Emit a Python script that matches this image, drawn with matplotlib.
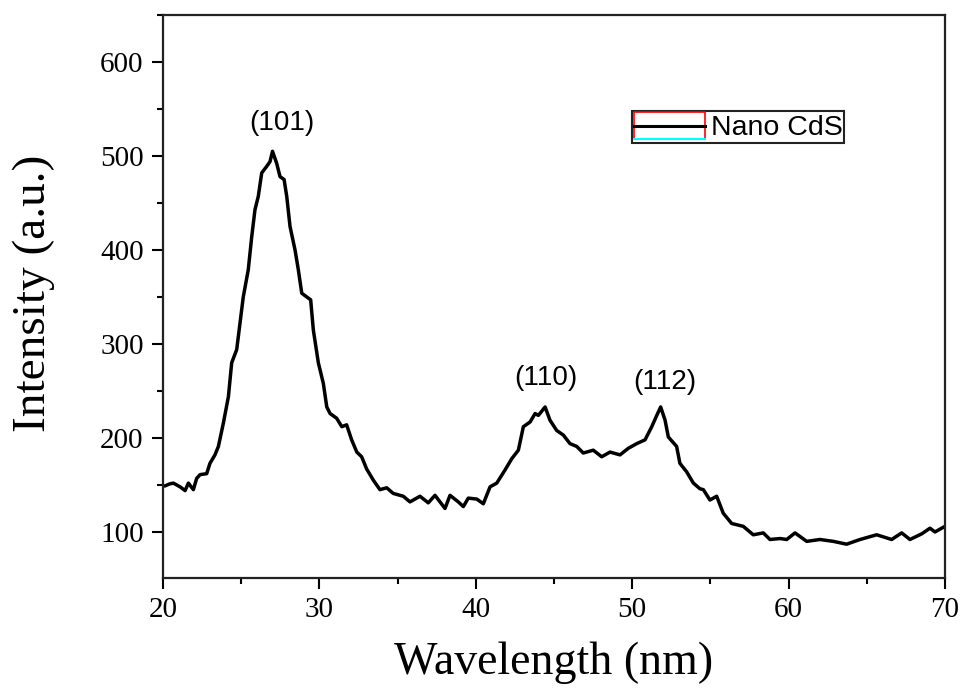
import matplotlib
matplotlib.use('Agg')
import matplotlib.pyplot as plt
from matplotlib.lines import Line2D
from matplotlib.legend_handler import HandlerBase
from matplotlib.ticker import MultipleLocator

# XRD pattern of nano CdS
two_theta = [20.0, 20.13, 20.4, 20.66, 21.09, 21.41, 21.62, 21.94, 22.15, 22.37,
             22.79, 23.0, 23.32, 23.54, 23.86, 24.18, 24.39, 24.71, 24.92, 25.13,
             25.45, 25.67, 25.88, 26.09, 26.31, 26.63, 26.84, 27.0, 27.27, 27.48,
             27.74, 27.91, 28.12, 28.44, 28.65, 28.87, 29.19, 29.44, 29.61, 29.93,
             30.25, 30.47, 30.68, 31.1, 31.43, 31.74, 32.06, 32.39, 32.7, 33.02,
             33.45, 33.87, 34.3, 34.72, 35.36, 35.79, 36.43, 36.96, 37.39, 38.03,
             38.35, 38.88, 39.2, 39.52, 40.06, 40.48, 40.91, 41.34, 41.87, 42.3,
             42.72, 43.04, 43.47, 43.79, 44.0, 44.43, 44.74, 45.17, 45.6, 46.02,
             46.45, 46.87, 47.51, 48.05, 48.58, 49.22, 49.75, 50.29, 50.82, 51.25,
             51.57, 51.82, 52.1, 52.31, 52.84, 53.05, 53.48, 53.91, 54.33, 54.55,
             54.97, 55.4, 55.82, 56.36, 57.1, 57.74, 58.38, 58.81, 59.45, 59.88,
             60.41, 61.16, 62.0, 62.86, 63.71, 64.57, 65.63, 66.59, 67.23, 67.76,
             68.51, 69.04, 69.36, 70.0]
intensity = [149, 149, 151, 152, 148, 144, 152, 145, 157, 161,
             162, 173, 182, 191, 216, 244, 280, 294, 322, 350,
             379, 414, 443, 457, 482, 489, 494, 505, 492, 478,
             475, 457, 425, 400, 379, 354, 350, 347, 315, 280,
             258, 233, 226, 221, 212, 214, 198, 185, 180, 167,
             155, 145, 147, 141, 138, 132, 138, 131, 139, 125,
             139, 132, 127, 136, 135, 130, 148, 152, 166, 178,
             187, 212, 217, 226, 224, 233, 219, 208, 203, 194,
             191, 184, 187, 180, 185, 182, 189, 194, 198, 212,
             224, 233, 219, 201, 191, 173, 164, 152, 146, 145,
             134, 138, 120, 109, 106, 97, 99, 92, 93, 92,
             99, 90, 92, 90, 87, 92, 97, 92, 99, 92,
             98, 104, 100, 106]

peak_labels = ['(101)', '(110)', '(112)']
peak_x = [27.6, 44.5, 52.1]
peak_y = [535, 264, 260]

SERIF = ['Liberation Serif', 'DejaVu Serif']
SANS = ['Liberation Sans', 'DejaVu Sans']


class OriginHandle(HandlerBase):
    """legend key as in the original: red box, cyan base, black line"""
    def create_artists(self, legend, orig_handle, xd, yd, width, height, fontsize, trans):
        x0, x1 = -xd, -xd + width
        y0, y1 = -yd, -yd + height
        red = Line2D([x0, x0, x1, x1], [y0, y1, y1, y0], color='red', lw=1.2, transform=trans)
        cyan = Line2D([x0, x1], [y0, y0], color='cyan', lw=1.5, transform=trans)
        blk = Line2D([x0, x1], [(y0 + y1) / 2] * 2, color='black', lw=2.2, transform=trans)
        return [red, cyan, blk]


fig = plt.figure(figsize=(9.63, 6.91), dpi=100)
ax = fig.add_axes([0.1693, 0.1635, 0.812, 0.8148])

line, = ax.plot(two_theta, intensity, color='black', lw=2.5, label='Nano CdS')

for lab, px, py in zip(peak_labels, peak_x, peak_y):
    ax.text(px, py, lab, ha='center', va='center', fontsize=20, family=SANS)

ax.set_xlim(20, 70)
ax.set_ylim(51, 650)
ax.xaxis.set_major_locator(MultipleLocator(10))
ax.xaxis.set_minor_locator(MultipleLocator(5))
ax.yaxis.set_major_locator(MultipleLocator(100))
ax.yaxis.set_minor_locator(MultipleLocator(50))
ax.set_yticks([100, 200, 300, 400, 500, 600])
ax.tick_params(which='major', direction='out', length=8, width=1.5, labelsize=21, pad=6)
ax.tick_params(which='minor', direction='out', length=4, width=1.5)
for lbl in ax.get_xticklabels() + ax.get_yticklabels():
    lbl.set_family(SERIF)
for sp in ax.spines.values():
    sp.set_linewidth(1.6)
    sp.set_color('#222222')

ax.set_xlabel('Wavelength (nm)', fontsize=33, family=SERIF)
ax.set_ylabel('Intensity (a.u.)', fontsize=34, family=SERIF)
ax.xaxis.set_label_coords(0.5, -0.113)
ax.yaxis.set_label_coords(-0.138, 0.506)

leg = ax.legend(handles=[line], loc='upper left', bbox_to_anchor=(0.6, 0.83),
                handler_map={line: OriginHandle()}, fancybox=False, framealpha=1,
                edgecolor='#222222', borderpad=0.05, borderaxespad=0,
                handlelength=2.5, handleheight=1.1, handletextpad=0.2,
                prop={'family': SANS, 'size': 20.5})
leg.get_frame().set_linewidth(1.5)

fig.savefig('out.png', dpi=100)
